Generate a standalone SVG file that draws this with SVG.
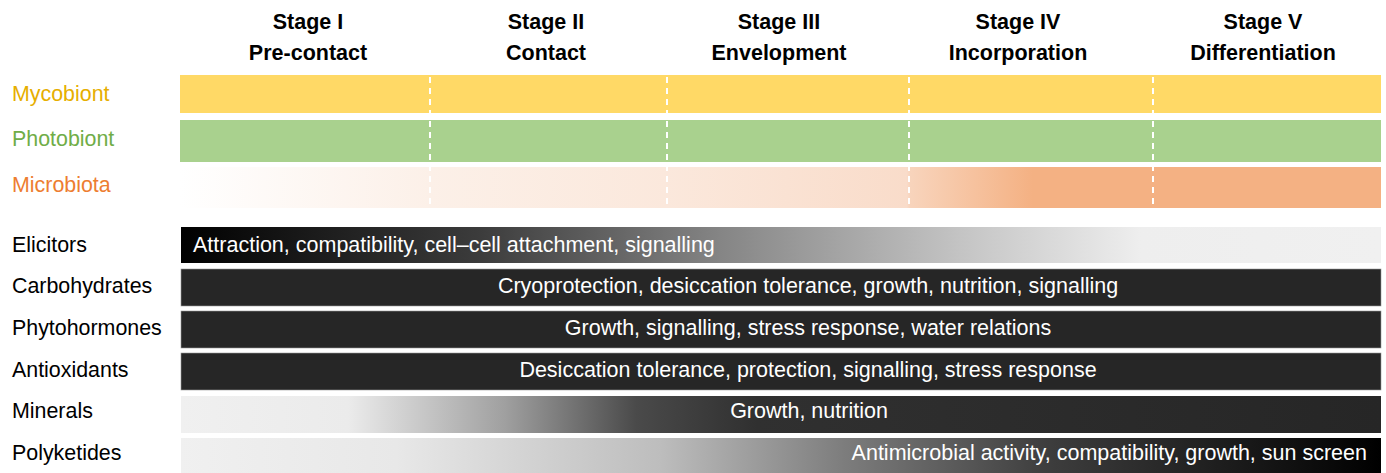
<svg xmlns="http://www.w3.org/2000/svg" width="1386" height="473" viewBox="0 0 1386 473">
  <defs>
    <linearGradient id="gMicro" x1="180" y1="0" x2="1381" y2="0" gradientUnits="userSpaceOnUse">
      <stop offset="0" stop-color="#FFFFFF"/>
      <stop offset="0.208" stop-color="#FCF0E8"/>
      <stop offset="0.405" stop-color="#FBE8DC"/>
      <stop offset="0.605" stop-color="#F9DCCA"/>
      <stop offset="0.608" stop-color="#F8D4BC"/>
      <stop offset="0.71" stop-color="#F4B183"/>
      <stop offset="1" stop-color="#F4B183"/>
    </linearGradient>
    <linearGradient id="gElic" x1="180" y1="0" x2="1381" y2="0" gradientUnits="userSpaceOnUse">
      <stop offset="0" stop-color="#000000"/>
      <stop offset="0.25" stop-color="#3C3C3C"/>
      <stop offset="0.45" stop-color="#858585"/>
      <stop offset="0.65" stop-color="#C4C4C4"/>
      <stop offset="0.80" stop-color="#EEEEEE"/>
      <stop offset="1" stop-color="#F0F0F0"/>
    </linearGradient>
    <linearGradient id="gMin" x1="180" y1="0" x2="1381" y2="0" gradientUnits="userSpaceOnUse">
      <stop offset="0" stop-color="#F0F0F0"/>
      <stop offset="0.14" stop-color="#EBEBEB"/>
      <stop offset="0.27" stop-color="#A0A0A0"/>
      <stop offset="0.38" stop-color="#4A4A4A"/>
      <stop offset="0.48" stop-color="#303030"/>
      <stop offset="1" stop-color="#262626"/>
    </linearGradient>
    <linearGradient id="gPoly" x1="180" y1="0" x2="1381" y2="0" gradientUnits="userSpaceOnUse">
      <stop offset="0" stop-color="#F0F0F0"/>
      <stop offset="0.18" stop-color="#E8E8E8"/>
      <stop offset="0.40" stop-color="#BDBDBD"/>
      <stop offset="0.55" stop-color="#7E7E7E"/>
      <stop offset="0.72" stop-color="#3E3E3E"/>
      <stop offset="1" stop-color="#000000"/>
    </linearGradient>
  </defs>
  <style>
    .stage { font-family: "Liberation Sans", Arial, sans-serif; font-weight: bold; font-size: 21.5px; fill: #000; text-anchor: middle; }
    .lbl { font-family: "Liberation Sans", Arial, sans-serif; font-size: 21.4px; fill: #000; }
    .bartxt { font-family: "Liberation Sans", Arial, sans-serif; font-size: 21.5px; fill: #FFFFFF; }
    .band { stroke: none; }
    .bar { stroke: none; }
    .dark { stroke: #9A9A9A; stroke-width: 0.6; }
    .divider { stroke: #FFFFFF; stroke-width: 2; stroke-dasharray: 6 5; fill: none; }
  </style>

  <!-- stage headings -->
  <g id="stages">
    <text class="stage" x="308" y="29">Stage I</text>
    <text class="stage" x="308" y="60">Pre-contact</text>
    <text class="stage" x="546" y="29">Stage II</text>
    <text class="stage" x="546" y="60">Contact</text>
    <text class="stage" x="779" y="29">Stage III</text>
    <text class="stage" x="779" y="60">Envelopment</text>
    <text class="stage" x="1018" y="29">Stage IV</text>
    <text class="stage" x="1018" y="60">Incorporation</text>
    <text class="stage" x="1263" y="29">Stage V</text>
    <text class="stage" x="1263" y="60">Differentiation</text>
  </g>

  <!-- partner bands -->
  <g id="mycobiont">
    <text class="lbl" x="12" y="101" style="fill:#E6AE00">Mycobiont</text>
    <rect class="band" x="180" y="75" width="1201" height="38" fill="#FFD966"/>
  </g>
  <g id="photobiont">
    <text class="lbl" x="12" y="146" style="fill:#70AD47">Photobiont</text>
    <rect class="band" x="180" y="120" width="1201" height="42" fill="#A9D18E"/>
  </g>
  <g id="microbiota">
    <text class="lbl" x="12" y="192" style="fill:#ED7D31">Microbiota</text>
    <rect class="band" x="180" y="167" width="1201" height="41" fill="url(#gMicro)"/>
  </g>

  <!-- stage boundaries -->
  <g id="connectors">
    <line class="divider" x1="430" y1="77" x2="430" y2="208"/>
    <line class="divider" x1="667" y1="77" x2="667" y2="208"/>
    <line class="divider" x1="909" y1="77" x2="909" y2="208"/>
    <line class="divider" x1="1153" y1="77" x2="1153" y2="208"/>
  </g>

  <!-- metabolite rows -->
  <g id="elicitors">
    <text class="lbl" x="12" y="252">Elicitors</text>
    <rect class="bar" x="181" y="227" width="1200" height="36" fill="url(#gElic)"/>
    <text class="bartxt" x="193" y="252">Attraction, compatibility, cell–cell attachment, signalling</text>
  </g>
  <g id="carbohydrates">
    <text class="lbl" x="12" y="293">Carbohydrates</text>
    <rect class="bar dark" x="181" y="269" width="1200" height="37" fill="#262626"/>
    <text class="bartxt" x="808" y="293" text-anchor="middle">Cryoprotection, desiccation tolerance, growth, nutrition, signalling</text>
  </g>
  <g id="phytohormones">
    <text class="lbl" x="12" y="335">Phytohormones</text>
    <rect class="bar dark" x="181" y="311" width="1200" height="37" fill="#262626"/>
    <text class="bartxt" x="808" y="335" text-anchor="middle">Growth, signalling, stress response, water relations</text>
  </g>
  <g id="antioxidants">
    <text class="lbl" x="12" y="377">Antioxidants</text>
    <rect class="bar dark" x="181" y="353" width="1200" height="37" fill="#262626"/>
    <text class="bartxt" x="808" y="377" text-anchor="middle">Desiccation tolerance, protection, signalling, stress response</text>
  </g>
  <g id="minerals">
    <text class="lbl" x="12" y="418">Minerals</text>
    <rect class="bar" x="181" y="396" width="1200" height="37" fill="url(#gMin)"/>
    <text class="bartxt" x="809" y="418" text-anchor="middle">Growth, nutrition</text>
  </g>
  <g id="polyketides">
    <text class="lbl" x="12" y="460">Polyketides</text>
    <rect class="bar" x="181" y="438" width="1200" height="36" fill="url(#gPoly)"/>
    <text class="bartxt" x="1367" y="460" text-anchor="end">Antimicrobial activity, compatibility, growth, sun screen</text>
  </g>
</svg>
